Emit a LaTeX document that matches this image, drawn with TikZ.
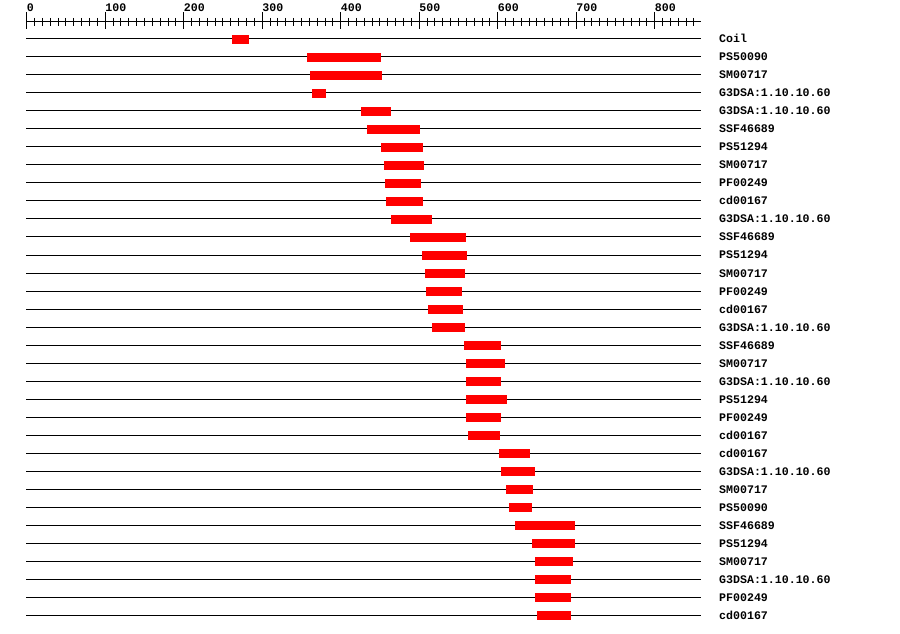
\documentclass[tikz,border=0pt]{standalone}
\usepackage{fontspec}
\newfontfamily\lblfont{Liberation Mono}[Scale=1.0]
\begin{document}
\begin{tikzpicture}[x=1bp,y=-1bp,
  rowline/.style={line width=1bp,black},
  barbox/.style={fill=red,draw=none},
  lbl/.style={anchor=base west,inner sep=0pt,font=\lblfont\bfseries\fontsize{11.6bp}{12bp}\selectfont},
  axlbl/.style={anchor=base west,inner sep=0pt,font=\lblfont\bfseries\fontsize{11.6bp}{12bp}\selectfont}]
\useasboundingbox (0,0) rectangle (900,634);
% axis
\draw[rowline] (26.7,22) -- (701,22);
\foreach \u in {0,10,...,850}{
  \draw[line width=1bp] ({26.7+0.785*\u},18) -- ({26.7+0.785*\u},26);
}
\foreach \u in {0,100,...,800}{
  \draw[line width=1bp] ({26.7+0.785*\u},12) -- ({26.7+0.785*\u},29);
  \node[axlbl] (ax\u) at ({26.7+0.785*\u},12) {\u};
}
% rows
\foreach \lab/\a/\b [count=\i from 0] in {
Coil/232/249,
PS50090/307/381,
SM00717/310/382,
G3DSA:1.10.10.60/312/326,
G3DSA:1.10.10.60/361/391,
SSF46689/367/420,
PS51294/381/423,
SM00717/384/424,
PF00249/385/421,
cd00167/386/423,
G3DSA:1.10.10.60/391/432,
SSF46689/410/466,
PS51294/422/467,
SM00717/425/465,
PF00249/426/462,
cd00167/428/463,
G3DSA:1.10.10.60/432/465,
SSF46689/464/501,
SM00717/466/505,
G3DSA:1.10.10.60/466/501,
PS51294/466/507,
PF00249/466/501,
cd00167/468/500,
cd00167/499/530,
G3DSA:1.10.10.60/501/535,
SM00717/506/533,
PS50090/509/532,
SSF46689/515/575,
PS51294/532/575,
SM00717/535/573,
G3DSA:1.10.10.60/535/571,
PF00249/535/571,
cd00167/537/571}{
  \pgfmathsetmacro{\yy}{39+18*\i}
  \draw[rowline] (26,\yy) -- (701,\yy);
  \fill[barbox] (\a,{\yy-4.3}) rectangle (\b,{\yy+4.7});
  \node[lbl] (lab\i) at (719,{\yy+4}) {\lab};
}
\end{tikzpicture}
\end{document}
